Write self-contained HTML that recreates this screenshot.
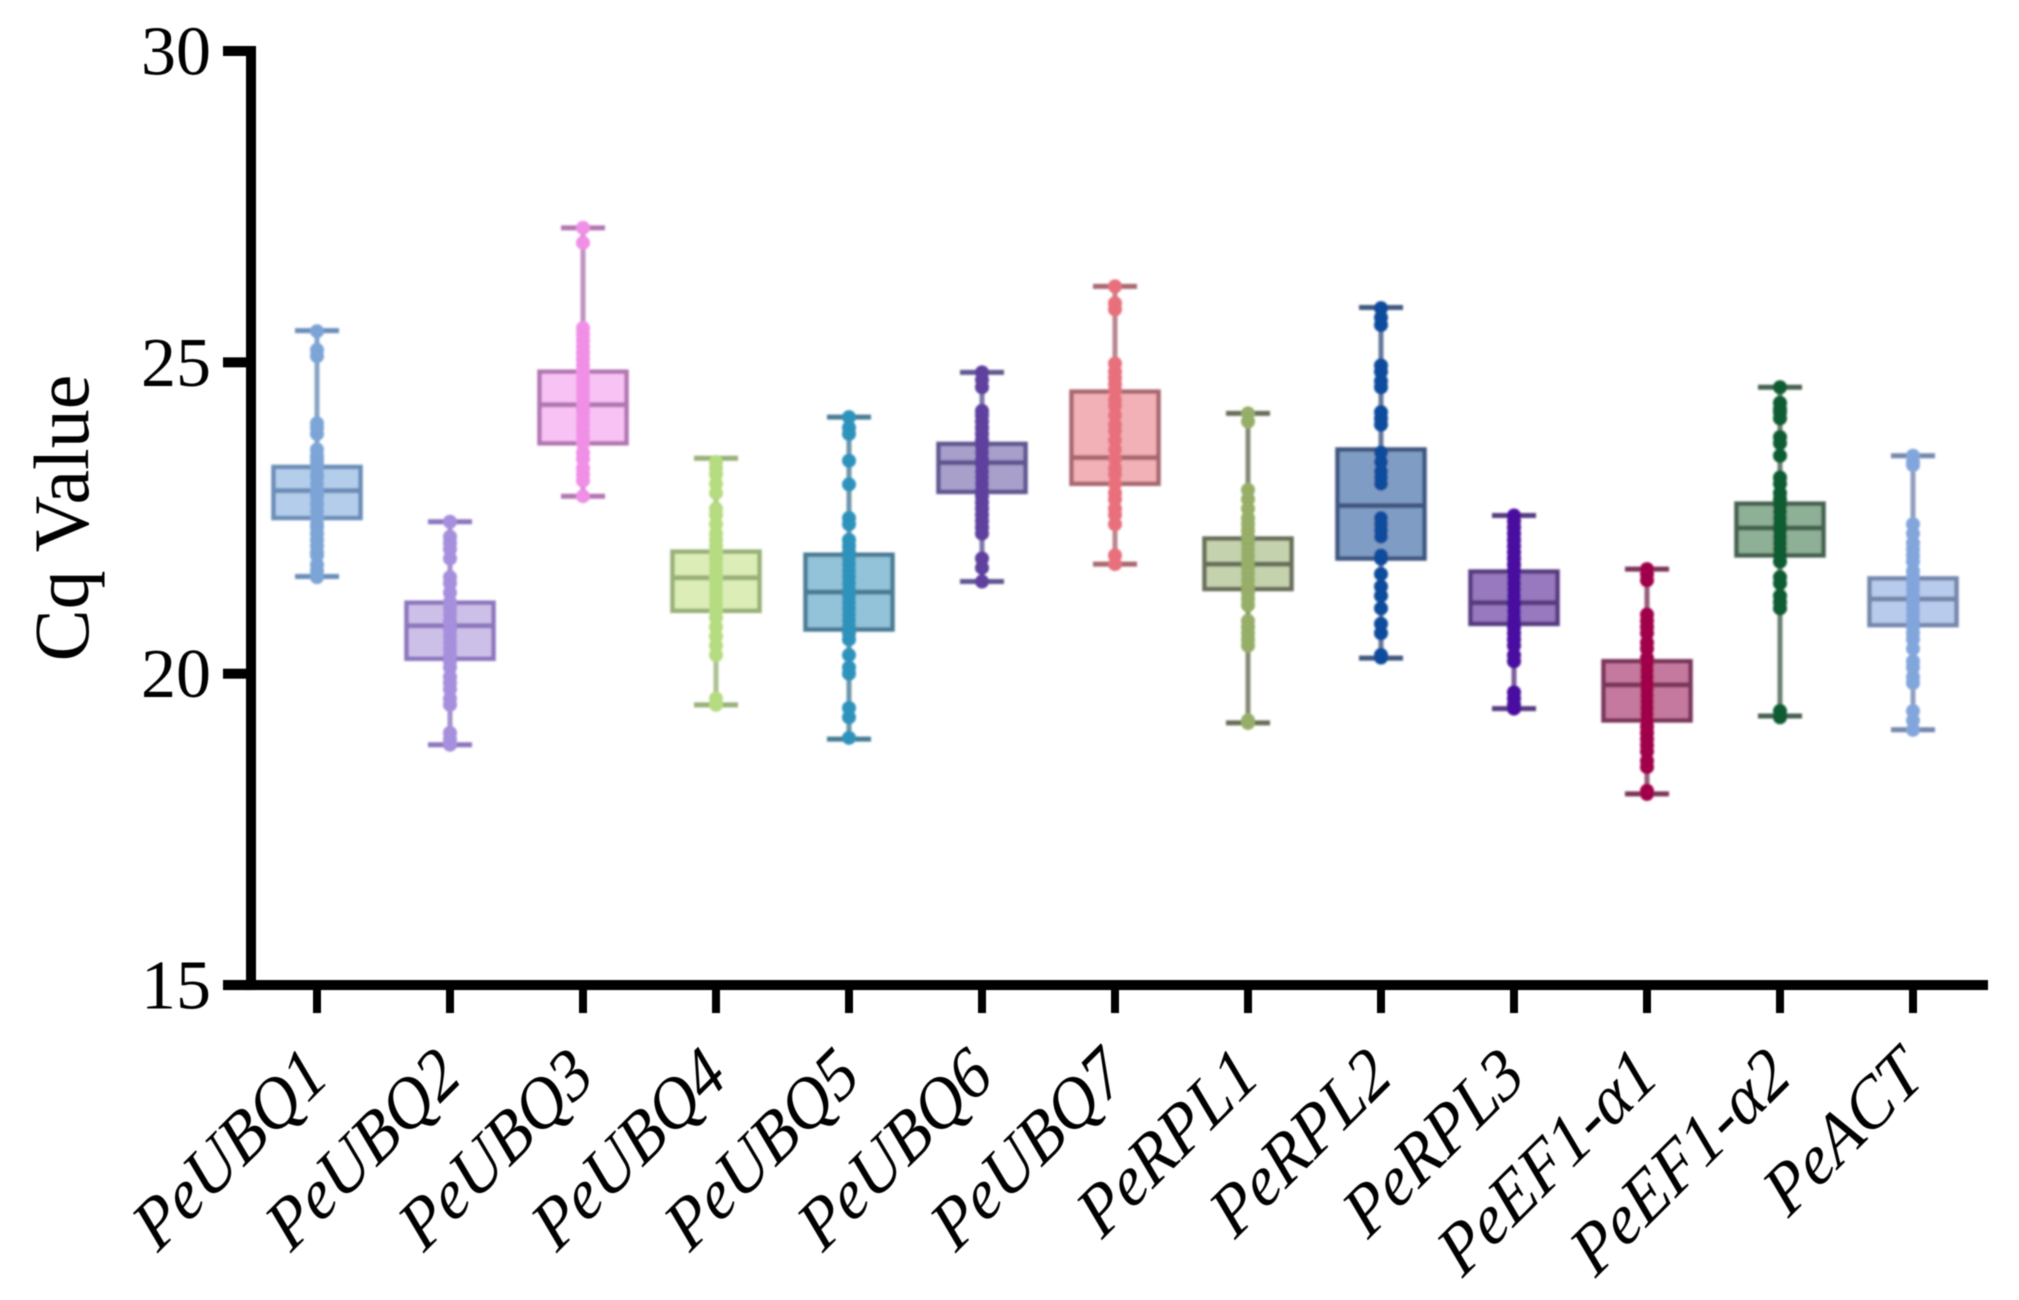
<!DOCTYPE html>
<html lang="en">
<head>
<meta charset="utf-8">
<title>Cq Value box plot</title>
<style>
html,body{margin:0;padding:0;background:#fff;width:2019px;height:1300px;overflow:hidden}
svg{display:block}
text{font-family:"Liberation Serif",serif;fill:#000}
</style>
</head>
<body>
<svg id="chart" xmlns="http://www.w3.org/2000/svg" width="2019" height="1300" viewBox="0 0 2019 1300">
<defs>
<filter id="soft" x="-5%" y="-5%" width="110%" height="110%"><feGaussianBlur stdDeviation="1.1"/></filter>
<filter id="softer" x="-5%" y="-5%" width="110%" height="110%"><feGaussianBlur stdDeviation="0.5"/></filter>
</defs>
<g id="marks" filter="url(#soft)"></g>
<g id="axes" filter="url(#softer)">
<text transform="translate(88,518) rotate(-90)" text-anchor="middle" font-size="78">Cq Value</text>
</g>
</svg>
<script>
const categories = ['PeUBQ1','PeUBQ2','PeUBQ3','PeUBQ4','PeUBQ5','PeUBQ6','PeUBQ7','PeRPL1','PeRPL2','PeRPL3','PeEF1-\u03B11','PeEF1-\u03B12','PeACT'];
const yTicks = [15,20,25,30];
const whiskerHigh = [25.51,22.44,27.16,23.46,24.12,24.84,26.22,24.18,25.88,22.54,21.68,24.6,23.5];
const q3Values = [23.32,21.14,24.85,21.96,21.91,23.69,24.53,22.17,23.6,21.64,20.2,22.73,21.53];
const medians = [22.94,20.77,24.32,21.54,21.31,23.39,23.47,21.76,22.7,21.14,19.82,22.34,21.2];
const q1Values = [22.5,20.24,23.7,21.01,20.71,22.92,23.05,21.36,21.85,20.8,19.25,21.9,20.78];
const whiskerLow = [21.56,18.86,22.85,19.5,18.95,21.48,21.76,19.21,20.25,19.44,18.07,19.32,19.1];
const pointsPeUBQ1 = [25.5,25.2,25.1,24.02,23.95,23.85,23.6,23.5,23.45,23.4,23.3,23.2,23.15,23.05,22.95,22.9,22.85,22.75,22.7,22.6,22.5,22.4,22.35,22.25,22.15,22.05,21.95,21.9,21.75,21.65,21.55];
const pointsPeUBQ2 = [22.44,22.2,22.1,22.0,21.85,21.55,21.45,21.3,21.15,21.05,20.95,20.85,20.8,20.7,20.6,20.5,20.4,20.3,20.2,20.1,19.95,19.85,19.75,19.6,19.5,19.05,18.95,18.86];
const pointsPeUBQ3 = [27.16,26.92,25.55,25.45,25.35,25.25,25.15,25.05,24.95,24.85,24.75,24.65,24.55,24.45,24.35,24.25,24.2,24.1,24.0,23.9,23.8,23.7,23.55,23.45,23.3,23.2,23.1,22.85];
const pointsPeUBQ4 = [23.4,23.3,23.2,23.05,22.9,22.65,22.55,22.4,22.25,22.15,22.05,21.95,21.85,21.75,21.65,21.55,21.5,21.4,21.3,21.2,21.1,21,20.9,20.75,20.6,20.45,20.3,19.6,19.5];
const pointsPeUBQ5 = [24.12,23.95,23.85,23.42,23.04,22.5,22.4,22.15,22.05,21.95,21.85,21.75,21.65,21.55,21.45,21.35,21.25,21.15,21.05,20.95,20.85,20.75,20.65,20.55,20.3,20.1,20.0,19.45,19.3,18.97];
const pointsPeUBQ6 = [24.84,24.72,24.6,24.22,24.15,24.05,23.95,23.85,23.75,23.65,23.55,23.45,23.35,23.25,23.15,23.05,22.95,22.85,22.75,22.65,22.55,22.45,22.35,22.25,21.85,21.7,21.48];
const pointsPeUBQ7 = [26.22,25.95,25.85,24.98,24.85,24.75,24.65,24.55,24.4,24.3,24.15,24,23.9,23.75,23.6,23.45,23.3,23.2,23.05,22.9,22.8,22.65,22.55,22.4,21.9,21.76];
const pointsPeRPL1 = [24.18,24.05,22.95,22.8,22.65,22.5,22.4,22.3,22.2,22.1,22,21.9,21.8,21.7,21.6,21.5,21.4,21.3,21.2,21.1,20.85,20.75,20.65,20.55,20.45,19.25,19.21];
const pointsPeRPL2 = [25.87,25.72,25.6,24.95,24.85,24.7,24.6,24.2,24.1,24,23.55,23.4,23.25,23.15,23.05,22.5,22.4,22.3,22.2,21.9,21.85,21.6,21.4,21.25,21.05,20.8,20.65,20.3,20.26];
const pointsPeRPL3 = [22.54,22.45,22.35,22.25,22.15,22.05,21.95,21.85,21.75,21.65,21.55,21.45,21.35,21.25,21.15,21.1,21,20.9,20.85,20.75,20.65,20.55,20.45,20.3,20.2,19.7,19.6,19.5,19.44];
const pointsPeEF1a1 = [21.68,21.6,21.5,20.95,20.85,20.75,20.65,20.5,20.4,20.25,20.15,20.05,19.95,19.85,19.75,19.65,19.55,19.45,19.35,19.25,19.15,19.05,18.95,18.85,18.75,18.6,18.5,18.12,18.07];
const pointsPeEF1a2 = [24.6,24.35,24.25,24.2,24.1,23.8,23.7,23.5,23.15,23.05,22.9,22.8,22.7,22.6,22.5,22.4,22.3,22.2,22.1,22,21.9,21.8,21.55,21.45,21.25,21.15,21.05,19.4,19.3];
const pointsPeACT = [23.5,23.4,23.35,22.4,22.25,22.1,22,21.9,21.8,21.65,21.55,21.45,21.35,21.25,21.15,21.05,20.95,20.85,20.75,20.65,20.55,20.4,20.2,20.1,19.95,19.85,19.4,19.25,19.1];
const seriesPoints = [pointsPeUBQ1,pointsPeUBQ2,pointsPeUBQ3,pointsPeUBQ4,pointsPeUBQ5,pointsPeUBQ6,pointsPeUBQ7,pointsPeRPL1,pointsPeRPL2,pointsPeRPL3,pointsPeEF1a1,pointsPeEF1a2,pointsPeACT];

const dotColors = ['#7BA4D6','#A68FDC','#F08FE6','#B5DC80','#2F93BC','#5F3F9F','#E8707C','#96AE68','#0F4C9C','#4A0AA0','#A0064A','#0A5C32','#82A6DC'];
const fillColors = ['#B4CDEB','#CDC0E8','#F8C2F4','#DCEDB8','#93C3D9','#A99FCB','#F2B1B6','#C4D2AE','#7F9DC4','#9878BE','#C5799E','#8DB096','#B8CBEC'];
const strokeColors = ['#6A8DB8','#8C76BE','#B276B0','#98B078','#4A7C94','#5F5690','#A86870','#676E58','#3F5680','#573A80','#7A3558','#456050','#7487AC'];

const NS = 'http://www.w3.org/2000/svg';
const xScale = i => 317 + 133 * i;
const yScale = v => 51 + (30 - v) * 62.27;
const marks = document.getElementById('marks');
const axes = document.getElementById('axes');

function make(parent, tag, attrs) {
  const el = document.createElementNS(NS, tag);
  for (const k in attrs) el.setAttribute(k, attrs[k]);
  parent.appendChild(el);
  return el;
}

categories.forEach((name, i) => {
  const x = xScale(i);
  const stroke = strokeColors[i];
  const group = make(marks, 'g', {});
  
  
  const stem = make(group, 'line', {x1:x, x2:x, y1:yScale(whiskerHigh[i]), y2:yScale(whiskerLow[i]), stroke:stroke, 'stroke-width':5, 'stroke-opacity':0.8});
  
  
  [whiskerHigh[i], whiskerLow[i]].forEach(v => {
    const cap = make(group, 'line', {x1:x-22, x2:x+22, y1:yScale(v), y2:yScale(v), stroke:stroke, 'stroke-width':5});
    
    
  });
  const box = make(group, 'rect', {x:x-43.5, width:87, y:yScale(q3Values[i]), height:yScale(q1Values[i])-yScale(q3Values[i]), fill:fillColors[i], stroke:stroke, 'stroke-width':4.5});
  
  
  const med = make(group, 'line', {x1:x-43.5, x2:x+43.5, y1:yScale(medians[i]), y2:yScale(medians[i]), stroke:stroke, 'stroke-width':5});
  
  
  seriesPoints[i].forEach(v => {
    const dot = make(group, 'circle', {cx:x, cy:yScale(v), r:7, fill:dotColors[i]});
    
    
  });
});

const yAxisLine = make(axes, 'rect', {x:246, y:yScale(30)-5, width:10, height:yScale(15)-yScale(30)+10, fill:'#000'});


const xAxisLine = make(axes, 'rect', {x:223, y:yScale(15)-5, width:1765, height:10, fill:'#000'});



yTicks.forEach(v => {
  const y = yScale(v);
  const tick = make(axes, 'rect', {x:223, y:y-5, width:28, height:10, fill:'#000'});
  
  
  const label = make(axes, 'text', {x:211, y:y+23.5, 'text-anchor':'end', 'font-size':70});
  
  
  label.textContent = v;
});

categories.forEach((name, i) => {
  const x = xScale(i);
  const tick = make(axes, 'rect', {x:x-4, y:yScale(15), width:8, height:28, fill:'#000'});
  
  
  const label = make(axes, 'text', {transform:'translate(' + (x + 14) + ',1080) rotate(-45) scale(0.97,1) skewX(-5)', 'text-anchor':'end', 'font-size':70, 'font-style':'italic'});
  
  
  label.textContent = name;
});
</script>
</body>
</html>
